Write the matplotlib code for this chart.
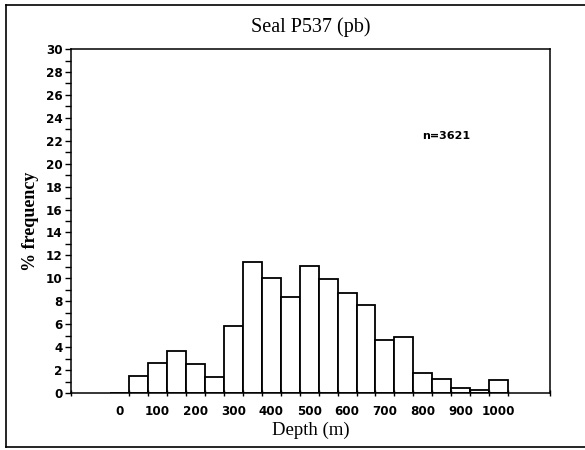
import matplotlib
matplotlib.use('Agg')
import matplotlib.pyplot as plt
from matplotlib.lines import Line2D

# depth bins (centre, m) and % frequency per bin
depth = [0, 50, 100, 150, 200, 250, 300, 350, 400, 450, 500,
         550, 600, 650, 700, 750, 800, 850, 900, 950, 1000]
freq = [0.0, 1.5, 2.6, 3.7, 2.5, 1.4, 5.8, 11.4, 10.0, 8.4, 11.05,
        9.95, 8.75, 7.7, 4.6, 4.9, 1.75, 1.2, 0.4, 0.25, 1.15]
xlabels = [0, 100, 200, 300, 400, 500, 600, 700, 800, 900, 1000]
ylabels = list(range(0, 31, 2))
bin_w = 50

tick_font = dict(fontsize=9.5, fontweight='bold', family='DejaVu Sans',
                 fontstretch='condensed')

fig = plt.figure(figsize=(5.85, 4.5), dpi=100)
ax = fig.add_axes([0.1214, 0.1267, 0.8186, 0.7643])

ax.bar(depth, freq, width=bin_w, color='white', edgecolor='black', linewidth=1.3)

ax.set_xlim(-128, 1135)
ax.set_ylim(0, 30)

# labels sit at bar centres, ticks at bar edges
ax.set_xticks(xlabels)
ax.set_xticklabels([str(v) for v in xlabels], **tick_font)
edges = [d - bin_w / 2 for d in depth[1:]] + [depth[-1] + bin_w / 2]
ax.set_xticks(edges + [-128, 1135], minor=True)
ax.tick_params(axis='x', which='major', length=0, pad=9)
ax.tick_params(axis='x', which='minor', length=5, width=1, direction='inout')

ax.set_yticks(ylabels)
ax.set_yticklabels([str(v) for v in ylabels], **tick_font)
ax.set_yticks(range(1, 30, 2), minor=True)
ax.tick_params(axis='y', which='both', length=4, width=1, direction='out', pad=2)

for s in ax.spines.values():
    s.set_linewidth(1.1)

ax.set_title('Seal P537 (pb)', fontsize=14.5, family='Liberation Serif', pad=12)
ax.set_xlabel('Depth (m)', fontsize=13.5, family='Liberation Serif', labelpad=2)
ax.set_ylabel('% frequency', fontsize=13, family='Liberation Serif',
              fontweight='bold', labelpad=5)

ax.text(861, 22.4, 'n=3621', fontsize=8, fontweight='bold',
        family='DejaVu Sans', ha='center', va='center')

# frame around the figure (no right side)
bx0, by0, by1 = 0.0103, 0.0067, 0.989
fig.add_artist(Line2D([bx0, bx0], [by0, by1], color='black', lw=1.2))
fig.add_artist(Line2D([bx0, 1.0], [by1, by1], color='black', lw=1.2))
fig.add_artist(Line2D([bx0, 1.0], [by0, by0], color='black', lw=1.2))

fig.savefig('out.png', dpi=100)
